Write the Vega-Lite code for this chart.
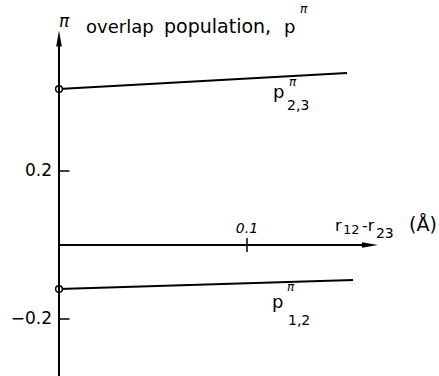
{
  "$schema": "https://vega.github.io/schema/vega-lite/v6.json",
  "width": 380,
  "height": 376,
  "autosize": {"type": "none"},
  "padding": {"left": 59, "top": 0, "right": 0, "bottom": 0},
  "background": "white",
  "config": {"view": {"stroke": null}, "text": {"font": "DejaVu Sans", "color": "black", "align": "left", "baseline": "alphabetic"}},
  "data": {"values": [{}]},
  "datasets": {
    "curves": [
      {"curve": "p23", "r": 0, "p": 0.4216},
      {"curve": "p23", "r": 0.1532, "p": 0.4649},
      {"curve": "p12", "r": 0, "p": -0.1189},
      {"curve": "p12", "r": 0.1564, "p": -0.0946}
    ],
    "yticks": [{"p": 0.2}, {"p": -0.2}],
    "xticks": [{"r": 0.1}]
  },
  "layer": [
    {
      "data": {"name": "curves"},
      "mark": {"type": "line", "color": "black", "strokeWidth": 2},
      "encoding": {
        "x": {"field": "r", "type": "quantitative", "scale": {"domain": [0, 0.202128], "nice": false, "zero": false}, "axis": null},
        "y": {"field": "p", "type": "quantitative", "scale": {"domain": [-0.354054, 0.662162], "nice": false, "zero": false}, "axis": null},
        "detail": {"field": "curve"}
      }
    },
    {
      "data": {"name": "curves"},
      "transform": [{"filter": "datum.r == 0"}],
      "mark": {"type": "point", "shape": "circle", "filled": true, "fill": "white", "stroke": "black", "strokeWidth": 1.5, "size": 45, "opacity": 1},
      "encoding": {
        "x": {"field": "r", "type": "quantitative", "axis": null},
        "y": {"field": "p", "type": "quantitative", "axis": null}
      }
    },
    {
      "mark": {"type": "rule", "color": "black", "strokeWidth": 2},
      "encoding": {
        "x": {"datum": 0, "type": "quantitative", "axis": null},
        "y": {"datum": -0.354, "type": "quantitative", "axis": null},
        "y2": {"datum": 0.56}
      }
    },
    {
      "mark": {"type": "rule", "color": "black", "strokeWidth": 2},
      "encoding": {
        "x": {"datum": 0, "type": "quantitative", "axis": null},
        "x2": {"datum": 0.165},
        "y": {"datum": 0, "type": "quantitative", "axis": null}
      }
    },
    {
      "mark": {"type": "point", "shape": "M0,-1L0.35,1L-0.35,1Z", "filled": true, "color": "black", "size": 256, "opacity": 1},
      "encoding": {
        "x": {"datum": 0, "type": "quantitative", "axis": null},
        "y": {"datum": 0.558, "type": "quantitative", "axis": null}
      }
    },
    {
      "mark": {"type": "point", "shape": "M1,0L-1,0.35L-1,-0.35Z", "filled": true, "color": "black", "size": 256, "opacity": 1},
      "encoding": {
        "x": {"datum": 0.1654, "type": "quantitative", "axis": null},
        "y": {"datum": 0, "type": "quantitative", "axis": null}
      }
    },
    {
      "data": {"name": "xticks"},
      "mark": {"type": "tick", "orient": "vertical", "color": "black", "size": 14, "thickness": 1.5, "opacity": 1},
      "encoding": {
        "x": {"field": "r", "type": "quantitative", "axis": null},
        "y": {"datum": 0, "type": "quantitative", "axis": null}
      }
    },
    {
      "data": {"name": "xticks"},
      "mark": {"type": "text", "fontSize": 14, "fontStyle": "italic", "align": "center", "baseline": "alphabetic", "dy": -12},
      "encoding": {
        "x": {"field": "r", "type": "quantitative", "axis": null},
        "y": {"datum": 0, "type": "quantitative", "axis": null},
        "text": {"field": "r", "type": "quantitative", "format": ".1f"}
      }
    },
    {
      "data": {"name": "yticks"},
      "mark": {"type": "rule", "color": "black", "strokeWidth": 1.5},
      "encoding": {
        "x": {"datum": 0, "type": "quantitative", "axis": null},
        "x2": {"datum": 0.0056},
        "y": {"field": "p", "type": "quantitative", "axis": null}
      }
    },
    {
      "data": {"name": "yticks"},
      "mark": {"type": "text", "fontSize": 17, "align": "right", "baseline": "middle"},
      "encoding": {
        "x": {"datum": -0.0037, "type": "quantitative", "axis": null},
        "y": {"field": "p", "type": "quantitative", "axis": null},
        "text": {"field": "p", "type": "quantitative", "format": ".1f"}
      }
    },
    {
      "mark": {"type": "text", "text": "π", "fontSize": 17, "fontStyle": "italic"},
      "encoding": {"x": {"datum": 0, "type": "quantitative", "axis": null}, "y": {"datum": 0.5892, "type": "quantitative", "axis": null}}
    },
    {
      "mark": {"type": "text", "text": "overlap", "fontSize": 18},
      "encoding": {"x": {"datum": 0.01436, "type": "quantitative", "axis": null}, "y": {"datum": 0.573, "type": "quantitative", "axis": null}}
    },
    {
      "mark": {"type": "text", "text": "population,", "fontSize": 19},
      "encoding": {"x": {"datum": 0.05585, "type": "quantitative", "axis": null}, "y": {"datum": 0.573, "type": "quantitative", "axis": null}}
    },
    {
      "mark": {"type": "text", "text": "p", "fontSize": 18},
      "encoding": {"x": {"datum": 0.1197, "type": "quantitative", "axis": null}, "y": {"datum": 0.573, "type": "quantitative", "axis": null}}
    },
    {
      "mark": {"type": "text", "text": "π", "fontSize": 12, "fontStyle": "italic"},
      "encoding": {"x": {"datum": 0.1282, "type": "quantitative", "axis": null}, "y": {"datum": 0.627, "type": "quantitative", "axis": null}}
    },
    {
      "mark": {"type": "text", "text": "p", "fontSize": 18},
      "encoding": {"x": {"datum": 0.1138, "type": "quantitative", "axis": null}, "y": {"datum": 0.3973, "type": "quantitative", "axis": null}}
    },
    {
      "mark": {"type": "text", "text": "π", "fontSize": 12, "fontStyle": "italic"},
      "encoding": {"x": {"datum": 0.1223, "type": "quantitative", "axis": null}, "y": {"datum": 0.4297, "type": "quantitative", "axis": null}}
    },
    {
      "mark": {"type": "text", "text": "2,3", "fontSize": 14},
      "encoding": {"x": {"datum": 0.1213, "type": "quantitative", "axis": null}, "y": {"datum": 0.3649, "type": "quantitative", "axis": null}}
    },
    {
      "mark": {"type": "text", "text": "p", "fontSize": 18},
      "encoding": {"x": {"datum": 0.1133, "type": "quantitative", "axis": null}, "y": {"datum": -0.1703, "type": "quantitative", "axis": null}}
    },
    {
      "mark": {"type": "text", "text": "π", "fontSize": 12, "fontStyle": "italic"},
      "encoding": {"x": {"datum": 0.1213, "type": "quantitative", "axis": null}, "y": {"datum": -0.1243, "type": "quantitative", "axis": null}}
    },
    {
      "mark": {"type": "text", "text": "1,2", "fontSize": 14},
      "encoding": {"x": {"datum": 0.1218, "type": "quantitative", "axis": null}, "y": {"datum": -0.2162, "type": "quantitative", "axis": null}}
    },
    {
      "mark": {"type": "text", "text": "r", "fontSize": 16},
      "encoding": {"x": {"datum": 0.1468, "type": "quantitative", "axis": null}, "y": {"datum": 0.0378, "type": "quantitative", "axis": null}}
    },
    {
      "mark": {"type": "text", "text": "12", "fontSize": 13},
      "encoding": {"x": {"datum": 0.1511, "type": "quantitative", "axis": null}, "y": {"datum": 0.0297, "type": "quantitative", "axis": null}}
    },
    {
      "mark": {"type": "text", "text": "-r", "fontSize": 16},
      "encoding": {"x": {"datum": 0.1612, "type": "quantitative", "axis": null}, "y": {"datum": 0.0378, "type": "quantitative", "axis": null}}
    },
    {
      "mark": {"type": "text", "text": "23", "fontSize": 14},
      "encoding": {"x": {"datum": 0.1686, "type": "quantitative", "axis": null}, "y": {"datum": 0.0189, "type": "quantitative", "axis": null}}
    },
    {
      "mark": {"type": "text", "text": "(Å)", "fontSize": 19},
      "encoding": {"x": {"datum": 0.1862, "type": "quantitative", "axis": null}, "y": {"datum": 0.0378, "type": "quantitative", "axis": null}}
    }
  ]
}
